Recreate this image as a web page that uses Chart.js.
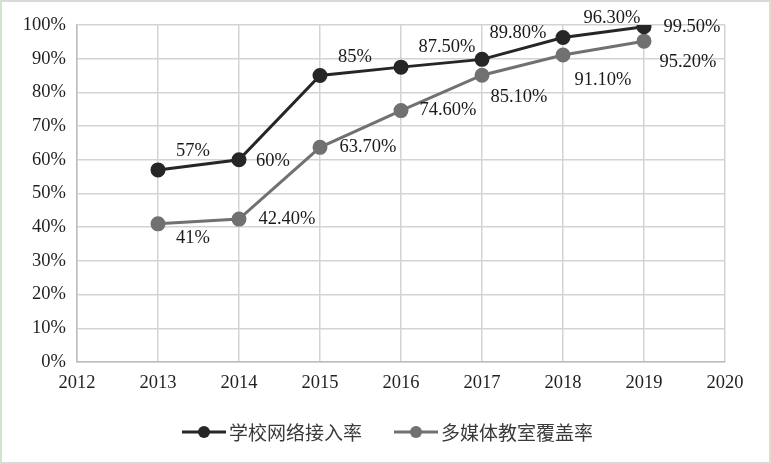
<!DOCTYPE html>
<html><head><meta charset="utf-8">
<script src="https://cdn.jsdelivr.net/npm/chart.js@4"></script>
<style>html,body{margin:0;padding:0;background:#fff}#wrap{width:771px;height:464px;position:relative}</style>
</head><body><div id="wrap"><canvas id="c"></canvas></div>
<script>
const years = [2013, 2014, 2015, 2016, 2017, 2018, 2019];
const seriesNames = ['学校网络接入率', '多媒体教室覆盖率'];
const networkRate = [57, 60, 85, 87.5, 89.8, 96.3, 99.5];
const multimediaRate = [41, 42.4, 63.7, 74.6, 85.1, 91.1, 95.2];
const xTickValues = [2012, 2013, 2014, 2015, 2016, 2017, 2018, 2019, 2020];
const yTickValues = [0, 10, 20, 30, 40, 50, 60, 70, 80, 90, 100];

// label placement offsets (px) relative to each point
const labelOffsets1 = [[35,-19],[34,1],[35,-18],[46,-20],[36,-26],[49,-19],[48,0]];
const labelOffsets2 = [[35,14],[48,0],[48,0],[47,0],[37,22],[40,25],[44,21]];

const colors = ['#262626', '#717171'];
const SERIF = '"Liberation Serif", "Times New Roman", serif';

function fmt(v) { return (Number.isInteger(v) ? String(v) : v.toFixed(2)) + '%'; }

const labelPlugin = {
  id: 'pointLabels',
  afterDatasetsDraw(chart) {
    const ctx = chart.ctx;
    ctx.save();
    ctx.font = '18.5px ' + SERIF;
    ctx.fillStyle = '#1a1a1a';
    ctx.textAlign = 'center';
    ctx.textBaseline = 'middle';
    chart.data.datasets.forEach((ds, i) => {
      const meta = chart.getDatasetMeta(i);
      const offs = i === 0 ? labelOffsets1 : labelOffsets2;
      meta.data.forEach((pt, j) => {
        const v = ds.data[j].y;
        ctx.fillText(fmt(v), pt.x + offs[j][0], pt.y + offs[j][1]);
      });
    });
    ctx.restore();
  }
};

const legendPlugin = {
  id: 'customLegend',
  afterDraw(chart) {
    const ctx = chart.ctx;
    ctx.save();
    ctx.font = '19px "Noto Sans CJK SC", sans-serif';
    const lineLen = 44, gapText = 3, gapItem = 32;
    const ds = chart.data.datasets;
    const widths = ds.map(d => lineLen + gapText + ctx.measureText(d.label).width);
    const total = widths.reduce((a, b) => a + b, 0) + gapItem * (ds.length - 1);
    let x = (chart.width - total) / 2 + 2;
    const y = 432;
    ds.forEach((d, i) => {
      ctx.strokeStyle = d.borderColor;
      ctx.lineWidth = 3;
      ctx.beginPath(); ctx.moveTo(x, y); ctx.lineTo(x + lineLen, y); ctx.stroke();
      ctx.fillStyle = d.pointBackgroundColor;
      ctx.beginPath(); ctx.arc(x + lineLen / 2, y, 6, 0, Math.PI * 2); ctx.fill();
      ctx.fillStyle = '#3a3a3a';
      ctx.textAlign = 'left';
      ctx.textBaseline = 'middle';
      ctx.fillText(d.label, x + lineLen + gapText, y + 1);
      x += widths[i] + gapItem;
    });
    ctx.restore();
  }
};

const borderPlugin = {
  id: 'frame',
  beforeDraw(chart) {
    const ctx = chart.ctx;
    ctx.save();
    ctx.fillStyle = '#fff';
    ctx.fillRect(0, 0, chart.width, chart.height);
    ctx.fillStyle = '#d9d9d9';
    ctx.fillRect(0, 0, chart.width, 2);
    ctx.fillRect(0, chart.height - 2, chart.width, 2);
    ctx.fillStyle = '#cfe5cf';
    ctx.fillRect(0, 0, 2, chart.height);
    ctx.fillRect(chart.width - 2, 0, 2, chart.height);
    ctx.restore();
  }
};

new Chart(document.getElementById('c'), {
  type: 'line',
  data: {
    datasets: [
      { label: seriesNames[0], data: years.map((y, i) => ({x: y, y: networkRate[i]})),
        borderColor: colors[0], backgroundColor: colors[0], pointBackgroundColor: colors[0],
        pointBorderColor: colors[0], borderWidth: 3, pointRadius: 6, pointHoverRadius: 6, tension: 0 },
      { label: seriesNames[1], data: years.map((y, i) => ({x: y, y: multimediaRate[i]})),
        borderColor: colors[1], backgroundColor: colors[1], pointBackgroundColor: colors[1],
        pointBorderColor: colors[1], borderWidth: 3, pointRadius: 6, pointHoverRadius: 6, tension: 0 }
    ]
  },
  options: {
    responsive: true, maintainAspectRatio: false, animation: false,
    layout: { padding: { left: 0, right: 46, top: 25, bottom: 0 } },
    plugins: { legend: { display: false }, tooltip: { enabled: false } },
    scales: {
      x: {
        type: 'linear', min: 2012, max: 2020,
        afterBuildTicks(s) { s.ticks = xTickValues.map(v => ({ value: v })); },
        afterFit(s) { s.height = 102; },
        grid: { color: '#d3d3d3', lineWidth: 1.5, drawTicks: false },
        border: { color: '#bdbdbd', width: 1.5 },
        ticks: { callback: v => String(v), font: { family: SERIF, size: 18.5 }, color: '#1f1f1f', padding: 10, maxRotation: 0, autoSkip: false }
      },
      y: {
        min: 0, max: 100,
        afterBuildTicks(s) { s.ticks = yTickValues.map(v => ({ value: v })); },
        afterFit(s) { s.width = 77; },
        grid: { color: '#d3d3d3', lineWidth: 1.5, drawTicks: false },
        border: { color: '#bdbdbd', width: 1.5 },
        ticks: { callback: v => v + '%', font: { family: SERIF, size: 18.5 }, color: '#1f1f1f', padding: 11 }
      }
    }
  },
  plugins: [borderPlugin, labelPlugin, legendPlugin]
});
</script></body></html>
